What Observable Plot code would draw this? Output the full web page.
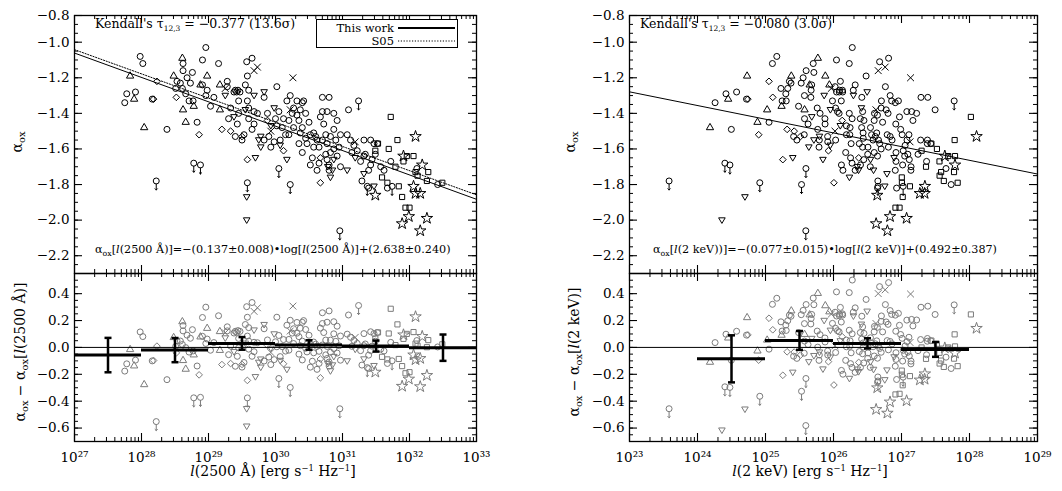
<!DOCTYPE html>
<html><head><meta charset="utf-8">
<script src="https://cdn.jsdelivr.net/npm/d3@7"></script>
<script src="https://cdn.jsdelivr.net/npm/@observablehq/plot@0.6"></script>
<style>
body{margin:0;background:#fff;}
#wrap{position:relative;width:1062px;height:491px;overflow:hidden;font-family:"DejaVu Serif","Liberation Serif",serif;background:#fff;}
</style></head><body><div id="wrap"></div>
<script>
// ---------- data: [log10 l(2500 Å), alpha_ox] per symbol type ----------
const circles = [[27.75,-1.34],[27.78,-1.29],[27.91,-1.28],[27.98,-1.08],[28.02,-1.12],[28.16,-1.32],[28.38,-1.49],
[28.51,-1.26],[28.53,-1.22],[28.62,-1.12],[28.62,-1.16],[28.58,-1.23],[28.61,-1.26],[28.66,-1.29],[28.68,-1.20],[28.76,-1.17],[28.73,-1.23],[28.77,-1.33],[28.71,-1.33],[28.91,-1.24],[28.91,-1.10],[28.96,-1.03],[28.83,-1.45],[28.96,-1.30],[28.98,-1.27],
[29.03,-1.36],[29.08,-1.31],[29.15,-1.12],[29.28,-1.22],[29.28,-1.25],[29.30,-1.43],[29.33,-1.37],[29.38,-1.28],[29.40,-1.27],[29.42,-1.28],[29.44,-1.27],[29.47,-1.28],[29.45,-1.33],[29.43,-1.46],[29.45,-1.40],[29.40,-1.53],[29.50,-1.55],[29.53,-1.52],[29.57,-1.11],[29.65,-1.09],[29.58,-1.19],[29.55,-1.24],[29.60,-1.27],[29.58,-1.33],[29.60,-1.37],[29.60,-1.43],[29.65,-1.49],[29.68,-1.39],[29.68,-1.46],[29.73,-1.40],[29.83,-1.31],[29.83,-1.55],[29.88,-1.40],[29.90,-1.53],[29.93,-1.59],[29.98,-1.56],[30.00,-1.43],
[30.02,-1.25],[30.02,-1.47],[30.05,-1.39],[30.07,-1.55],[30.10,-1.48],[30.12,-1.43],[30.15,-1.52],[30.17,-1.33],[30.20,-1.52],[30.20,-1.44],[30.25,-1.40],[30.27,-1.48],[30.22,-1.30],[30.27,-1.37],[30.32,-1.33],[30.32,-1.41],[30.35,-1.44],[30.35,-1.57],[30.37,-1.51],[30.37,-1.38],[30.40,-1.48],[30.40,-1.62],[30.42,-1.33],[30.40,-1.34],[30.45,-1.40],[30.45,-1.54],[30.47,-1.57],[30.50,-1.45],[30.52,-1.52],[30.57,-1.51],[30.57,-1.59],[30.60,-1.53],[30.55,-1.65],[30.62,-1.55],[30.65,-1.59],[30.67,-1.42],[30.70,-1.31],[30.70,-1.39],[30.70,-1.55],[30.72,-1.46],[30.75,-1.52],[30.75,-1.63],[30.77,-1.57],[30.77,-1.66],[30.80,-1.31],[30.77,-1.39],[30.82,-1.53],[30.82,-1.62],[30.80,-1.69],[30.80,-1.72],[30.87,-1.60],[30.90,-1.55],[30.92,-1.44],[30.92,-1.64],[30.87,-1.49],[30.95,-1.59],[30.97,-1.52],[30.97,-1.70],[30.87,-1.40],[30.65,-1.68],[30.62,-1.72],[30.52,-1.69],
[31.07,-1.52],[31.09,-1.38],[31.12,-1.55],[31.14,-1.62],[31.17,-1.58],[31.22,-1.61],[31.27,-1.67],[31.29,-1.78],[31.32,-1.55],[31.32,-1.64],[31.34,-1.63],[31.39,-1.72],[31.39,-1.82],[31.42,-1.69],[31.42,-1.55],[31.44,-1.66],[31.47,-1.57],[31.49,-1.63],[31.52,-1.57],[31.57,-1.70],[31.62,-1.72],[31.67,-1.82],[31.72,-1.67],[32.11,-1.71],[32.42,-1.80]];
const trianglesUp = [[27.83,-1.19],[27.89,-1.32],[28.04,-1.48],[28.48,-1.19],[28.61,-1.09],[28.62,-1.38],[28.66,-1.45],[28.78,-1.36],[28.88,-1.24],[28.98,-1.19],[29.17,-1.38],[29.17,-1.24]];
const trianglesDown = [[29.25,-1.30],[29.38,-1.42],[29.55,-1.38],[29.68,-1.30],[29.75,-1.55],[29.70,-1.65],[29.57,-1.87],[29.57,-2.00],[29.78,-1.53],[29.78,-1.59],[29.83,-1.28],[29.98,-1.37],[29.93,-1.47],[30.07,-1.58],[30.17,-1.66],[30.82,-1.76],[30.87,-1.66],[31.07,-1.72],[30.85,-1.72],[30.78,-1.70],[31.19,-1.65],[31.32,-1.74],[31.47,-1.81]];
const diamonds = [[28.18,-1.32],[28.23,-1.22],[28.52,-1.31],[28.86,-1.52],[29.20,-1.49],[29.33,-1.50],[29.50,-1.53],[29.58,-1.66],[29.88,-1.44],[30.12,-1.61],[30.67,-1.65],[30.67,-1.79]];
const squares = [[31.53,-1.57],[31.49,-1.61],[31.59,-1.76],[31.67,-1.79],[31.69,-1.60],[31.72,-1.42],[31.79,-1.70],[31.84,-1.81],[31.82,-1.55],[31.89,-1.87],[31.91,-1.67],[31.96,-1.64],[31.94,-1.93],[32.00,-1.93],[32.06,-1.64],[32.09,-1.73],[32.12,-1.75],[32.28,-1.73],[32.26,-1.78],[32.49,-1.79]];
const stars = [[31.49,-1.86],[31.91,-1.64],[31.89,-2.02],[31.99,-1.98],[32.09,-1.53],[32.06,-1.81],[32.09,-1.85],[32.16,-1.85],[32.16,-2.06],[32.26,-1.99],[32.19,-1.69]];
const crosses = [[29.25,-1.26],[29.73,-1.14],[29.68,-1.16],[29.93,-1.50],[30.22,-1.38],[30.26,-1.20],[31.19,-1.56]];
const upperLimits = [[28.22,-1.78],[28.78,-1.68],[28.88,-1.69],[29.58,-1.79],[30.05,-1.71],[30.22,-1.80],[31.24,-1.33],[31.37,-1.81],[31.74,-1.81],[30.96,-2.06]];

// fits (slope, intercept)
const fitUV = [-0.137, 2.638];
const fitS05 = [-0.136, 2.630];
const fitX = [-0.077, 0.492];
const AOX = 0.3838; // alpha_ox = 0.3838 log(l_2keV / l_2500)

// binned residual means
const binLoUV = [27,28,29,30,31,32];
const binMeanUV = [-0.057,-0.020,0.030,0.018,0.010,-0.002];
const binErrUV = [0.128,0.090,0.047,0.035,0.041,0.098];
const binLoX = [24,25,26,27];
const binMeanX = [-0.085,0.052,0.030,-0.015];
const binErrX = [0.175,0.070,0.038,0.055];

// tick values
const decadesUV = [27,28,29,30,31,32,33];
const decadesX = [23,24,25,26,27,28,29];
const yMajTop = [-2.2,-2.0,-1.8,-1.6,-1.4,-1.2,-1.0,-0.85];
const yMajBot = [-0.6,-0.4,-0.2,0.0,0.2,0.4];

// ---------- build ----------
const FONT = "'DejaVu Serif', 'Liberation Serif', serif";
const triDown = {draw(ctx, size){const h=Math.sqrt(size)*0.62;ctx.moveTo(-h,-h*0.7);ctx.lineTo(h,-h*0.7);ctx.lineTo(0,h);ctx.closePath();}};
const hbar = {draw(ctx){ctx.moveTo(-3.5,0);ctx.lineTo(3.5,0);}};
const groups = [
  {pts:circles, sym:"circle", r:3},
  {pts:trianglesUp, sym:"triangle", r:2.7},
  {pts:trianglesDown, sym:triDown, r:3},
  {pts:diamonds, sym:"diamond2", r:3},
  {pts:squares, sym:"square", r:2.9},
  {pts:stars, sym:"star", r:3.6},
  {pts:crosses, sym:"times", r:3.2},
  {pts:upperLimits, sym:"circle", r:3, lim:true}
].map(g => ({...g, rows: g.pts.map(([l,a]) => {
  const lx = l + a/AOX;
  return {lUV:10**l, lX:10**lx, a, rUV:a-(fitUV[0]*l+fitUV[1]), rX:a-(fitX[0]*lx+fitX[1])};
})}));

const sup = s => String(s).split("").map(c => "⁰¹²³⁴⁵⁶⁷⁸⁹"[+c]).join("");
const wrap = document.getElementById("wrap");
const p10 = e => +("1e"+e);

function range(a,b,s){const o=[];for(let v=a;v<=b+1e-9;v+=s)o.push(+v.toFixed(4));return o;}

function panel(o){
  const W=o.width-o.ml-o.mr, H=o.height-o.mt-o.mb;
  const dec=o.dec, d0=dec[0], d1=dec[dec.length-1];
  const xMaj=dec.map(p10);
  const xMin=[];for(let e=d0;e<d1;e++)for(let k=2;k<10;k++)xMin.push(k*p10(e));
  const yMin=range(o.yDomain[0],o.yDomain[1],0.05);
  const marks=[];
  marks.push(Plot.tickX(xMaj,{x:d=>d,insetTop:H-8,strokeWidth:1.1}));
  marks.push(Plot.tickX(xMaj,{x:d=>d,insetBottom:H-8,strokeWidth:1.1}));
  marks.push(Plot.tickX(xMin,{x:d=>d,insetTop:H-4}));
  marks.push(Plot.tickX(xMin,{x:d=>d,insetBottom:H-4}));
  marks.push(Plot.tickY(o.yMaj,{y:d=>d,insetRight:W-8,strokeWidth:1.1}));
  marks.push(Plot.tickY(o.yMaj,{y:d=>d,insetLeft:W-8,strokeWidth:1.1}));
  marks.push(Plot.tickY(yMin,{y:d=>d,insetRight:W-4}));
  marks.push(Plot.tickY(yMin,{y:d=>d,insetLeft:W-4}));
  for(const g of groups){
    marks.push(Plot.dot(g.rows,{x:o.xk,y:o.yk,symbol:g.sym,r:g.r,stroke:o.color,fill:"none",strokeWidth:1,clip:true}));
    if(g.lim) marks.push(Plot.vector(g.rows,{x:o.xk,y:o.yk,length:6,rotate:180,anchor:"start",dy:3,stroke:o.color,strokeWidth:1,clip:true}));
  }
  if(o.after) marks.push(...o.after);
  marks.push(Plot.frame({stroke:"black",strokeWidth:1.3}));
  marks.push(Plot.axisY(o.yMaj,{tickSize:0,tickPadding:5,tickFormat:d3.format(".1f"),label:null,fontFamily:FONT,fontSize:13.5}));
  if(o.xlabels) marks.push(Plot.axisX(xMaj,{tickSize:0,tickPadding:11,tickFormat:d=>"10"+sup(Math.round(Math.log10(d))),label:null,fontFamily:FONT,fontSize:13.5}));
  const svg=Plot.plot({width:o.width,height:o.height,marginLeft:o.ml,marginRight:o.mr,marginTop:o.mt,marginBottom:o.mb,
    x:{type:"log",domain:[p10(d0)*0.999999,p10(d1)*1.000001],axis:null},
    y:{domain:o.yDomain,axis:null},
    style:{fontFamily:FONT,fontSize:"13.5px",color:"black",background:"transparent",overflow:"visible"},
    marks});
  svg.style.position="absolute";svg.style.left=o.left+"px";svg.style.top=o.top+"px";
  wrap.appendChild(svg);
}
const fitLine=(fit,d,opts)=>Plot.line([d[0],d[d.length-1]],{x:v=>10**v,y:v=>fit[0]*v+fit[1],stroke:"black",strokeWidth:1,clip:true,...opts});
const binMarks=(lo,mean,err)=>{
  const b=lo.map((l,i)=>({lo:l,m:mean[i],e:err[i]}));
  return [
    Plot.ruleY(b,{y:"m",x1:d=>10**d.lo,x2:d=>10**(d.lo+1),stroke:"black",strokeWidth:3}),
    Plot.ruleX(b,{x:d=>10**(d.lo+0.5),y1:d=>d.m-d.e,y2:d=>d.m+d.e,stroke:"black",strokeWidth:2.5}),
    Plot.dot(b,{x:d=>10**(d.lo+0.5),y:d=>d.m+d.e,symbol:hbar,stroke:"black",strokeWidth:2.5}),
    Plot.dot(b,{x:d=>10**(d.lo+0.5),y:d=>d.m-d.e,symbol:hbar,stroke:"black",strokeWidth:2.5})
  ];
};

panel({left:0,top:0,width:530,height:273,ml:74,mr:54,mt:15,mb:0,dec:decadesUV,yDomain:[-2.3,-0.85],yMaj:yMajTop,
  xk:"lUV",yk:"a",color:"black",
  after:[fitLine(fitUV,decadesUV),fitLine(fitS05,decadesUV,{strokeDasharray:"1.2,1.6"})]});
panel({left:0,top:273,width:530,height:218,ml:74,mr:54,mt:0,mb:50,dec:decadesUV,yDomain:[-0.7,0.55],yMaj:yMajBot,
  xk:"lUV",yk:"rUV",color:"#7b7b7b",xlabels:true,
  after:[Plot.ruleY([0],{stroke:"black",strokeWidth:1}),...binMarks(binLoUV,binMeanUV,binErrUV)]});
panel({left:530,top:0,width:532,height:273,ml:99,mr:25,mt:15,mb:0,dec:decadesX,yDomain:[-2.3,-0.85],yMaj:yMajTop,
  xk:"lX",yk:"a",color:"black",
  after:[fitLine(fitX,decadesX)]});
panel({left:530,top:273,width:532,height:218,ml:99,mr:25,mt:0,mb:50,dec:decadesX,yDomain:[-0.7,0.55],yMaj:yMajBot,
  xk:"lX",yk:"rX",color:"#7b7b7b",xlabels:true,
  after:[Plot.ruleY([0],{stroke:"black",strokeWidth:1}),...binMarks(binLoX,binMeanX,binErrX)]});

// ---------- annotations ----------
const ov=d3.select(wrap).append("svg").attr("width",1062).attr("height",491)
  .style("position","absolute").style("left","0px").style("top","0px").style("pointer-events","none")
  .style("font-family",FONT);
const AO='α<tspan dy="3" font-size="70%">ox</tspan><tspan dy="-3">';
const L='<tspan font-style="italic">l</tspan>';
function txt(x,y,size,html,anchor="start",rot=false){
  const t=ov.append("text").attr("font-size",size).attr("text-anchor",anchor).attr("fill","black");
  if(rot) t.attr("transform",`translate(${x},${y}) rotate(-90)`); else t.attr("x",x).attr("y",y);
  t.html(html);
}
const kend=(v)=>`Kendall's τ<tspan dy="2.5" font-size="60%">12,3</tspan><tspan dy="-2.5"> = ${v}</tspan>`;
txt(95,28,12.5,kend("−0.377 (13.6σ)"));
txt(640,28,12.5,kend("−0.080 (3.0σ)"));
txt(95,253,11.2,`${AO}[</tspan>${L}(2500 Å)]=−(0.137±0.008)•log[${L}(2500 Å)]+(2.638±0.240)`);
txt(653,253,11.2,`${AO}[</tspan>${L}(2 keV))]=−(0.077±0.015)•log[${L}(2 keV)]+(0.492±0.387)`);
txt(22,142,14,`${AO}</tspan>`,"middle",true);
txt(575,142,14,`${AO}</tspan>`,"middle",true);
txt(25,352,14,`${AO} − </tspan>${AO}[</tspan>${L}(2500 Å)]`,"middle",true);
txt(579,352,14,`${AO} − </tspan>${AO}[</tspan>${L}(2 keV)]`,"middle",true);
const SUP=s=>`<tspan dy="-5" font-size="60%">${s}</tspan><tspan dy="5">`;
txt(273,476,14,`${L}(2500 Å) [erg s${SUP("−1")} Hz</tspan>${SUP("−1")}]</tspan>`,"middle");
txt(810,476,14,`${L}(2 keV) [erg s${SUP("−1")} Hz</tspan>${SUP("−1")}]</tspan>`,"middle");
// legend
ov.append("rect").attr("x",316.5).attr("y",19.5).attr("width",141).attr("height",28).attr("fill","white").attr("stroke","black").attr("stroke-width",1);
txt(394,31.5,11.5,"This work","end");
txt(394,45,11.5,"S05","end");
ov.append("line").attr("x1",398).attr("x2",455).attr("y1",28).attr("y2",28).attr("stroke","black").attr("stroke-width",2);
ov.append("line").attr("x1",398).attr("x2",455).attr("y1",41).attr("y2",41).attr("stroke","black").attr("stroke-width",1.2).attr("stroke-dasharray","1.2,1.6");
</script></body></html>
